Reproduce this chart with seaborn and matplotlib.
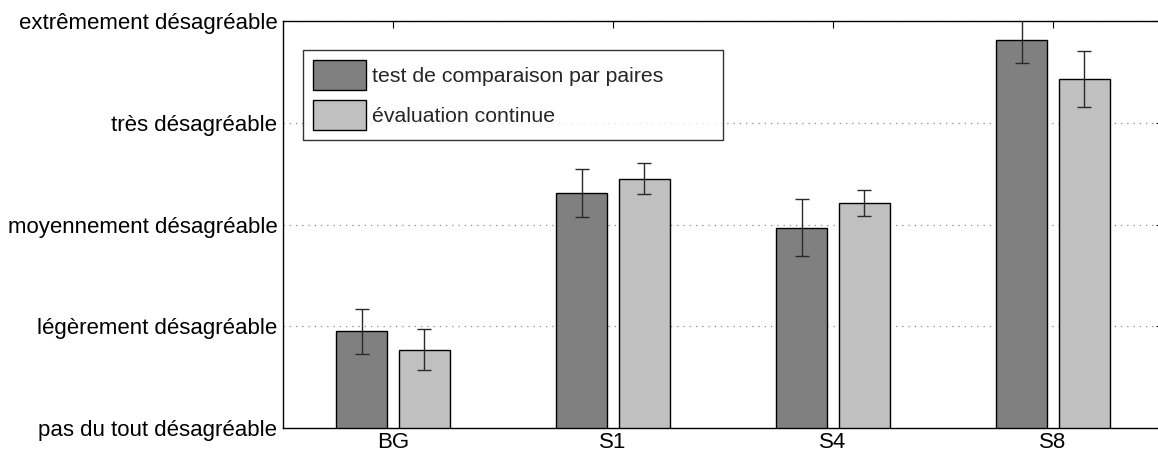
import numpy as np
import pandas as pd
import matplotlib
matplotlib.use("Agg")
import matplotlib.pyplot as plt
import seaborn as sns

# ==============================
# DATI
# ==============================
categories = ["BG", "S1", "S4", "S8"]
methods = ["test de comparaison par paires", "évaluation continue"]

paired_mean = [1.95, 3.31, 2.97, 4.81]
paired_err = [0.22, 0.24, 0.28, 0.22]
continuous_mean = [1.77, 3.45, 3.21, 4.43]
continuous_err = [0.20, 0.15, 0.13, 0.275]

ytick_values = [1, 2, 3, 4, 5]
ytick_labels = [
    "pas du tout désagréable",
    "légèrement désagréable",
    "moyennement désagréable",
    "très désagréable",
    "extrêmement désagréable",
]

df = pd.DataFrame({
    "stimulus": categories * 2,
    "methode": [methods[0]] * 4 + [methods[1]] * 4,
    "note": paired_mean + continuous_mean,
})

# ==============================
# STILE
# ==============================
sns.set_style("white")
plt.rcParams["font.family"] = ["Liberation Sans", "DejaVu Sans"]
plt.rcParams["font.size"] = 16

fig = plt.figure(figsize=(11.58, 4.58), dpi=100)
ax = fig.add_axes([283 / 1158, 30 / 458, 880 / 1158, 407 / 458])

sns.barplot(
    data=df,
    x="stimulus",
    y="note",
    hue="methode",
    order=categories,
    hue_order=methods,
    palette=["#808080", "#c0c0c0"],
    width=0.572,
    gap=0.2,
    errorbar=None,
    edgecolor="black",
    linewidth=1,
    saturation=1,
    ax=ax,
)

# barre di errore sui centri delle barre
for container, errs in zip(ax.containers, [paired_err, continuous_err]):
    xs = [p.get_x() + p.get_width() / 2 for p in container.patches]
    ys = [p.get_height() for p in container.patches]
    ax.errorbar(
        xs, ys, yerr=errs,
        fmt="none",
        ecolor="#2a2a2a",
        elinewidth=1,
        capsize=4.7,
        capthick=1,
        zorder=5,
    )

ax.set_xlim(-0.5, 3.5)
ax.set_ylim(1, 5)
ax.set_yticks(ytick_values)
ax.set_yticklabels(ytick_labels)
ax.set_xlabel("")
ax.set_ylabel("")

ax.tick_params(axis="both", direction="in", length=5, width=0.8,
               top=True, right=True, labelsize=16, colors="black")
ax.tick_params(axis="y", pad=4)
ax.tick_params(axis="x", pad=3)

ax.yaxis.grid(True, linestyle=(0, (1, 4)), color="#888888", linewidth=0.9)
ax.set_axisbelow(True)

for side in ["left", "bottom", "top", "right"]:
    ax.spines[side].set_visible(True)
    ax.spines[side].set_color("black")
    ax.spines[side].set_linewidth(1)

leg = ax.legend(
    loc="upper left",
    bbox_to_anchor=(20 / 880, 1 - 29 / 407, 420 / 880, 0),
    mode="expand",
    borderaxespad=0,
    frameon=True,
    fancybox=False,
    edgecolor="black",
    fontsize=15.3,
    handlelength=2.5,
    handleheight=1.78,
    handletextpad=0.28,
    labelspacing=0.47,
    borderpad=0.47,
)
leg.get_frame().set_linewidth(1)

fig.savefig("out.png", dpi=100)
